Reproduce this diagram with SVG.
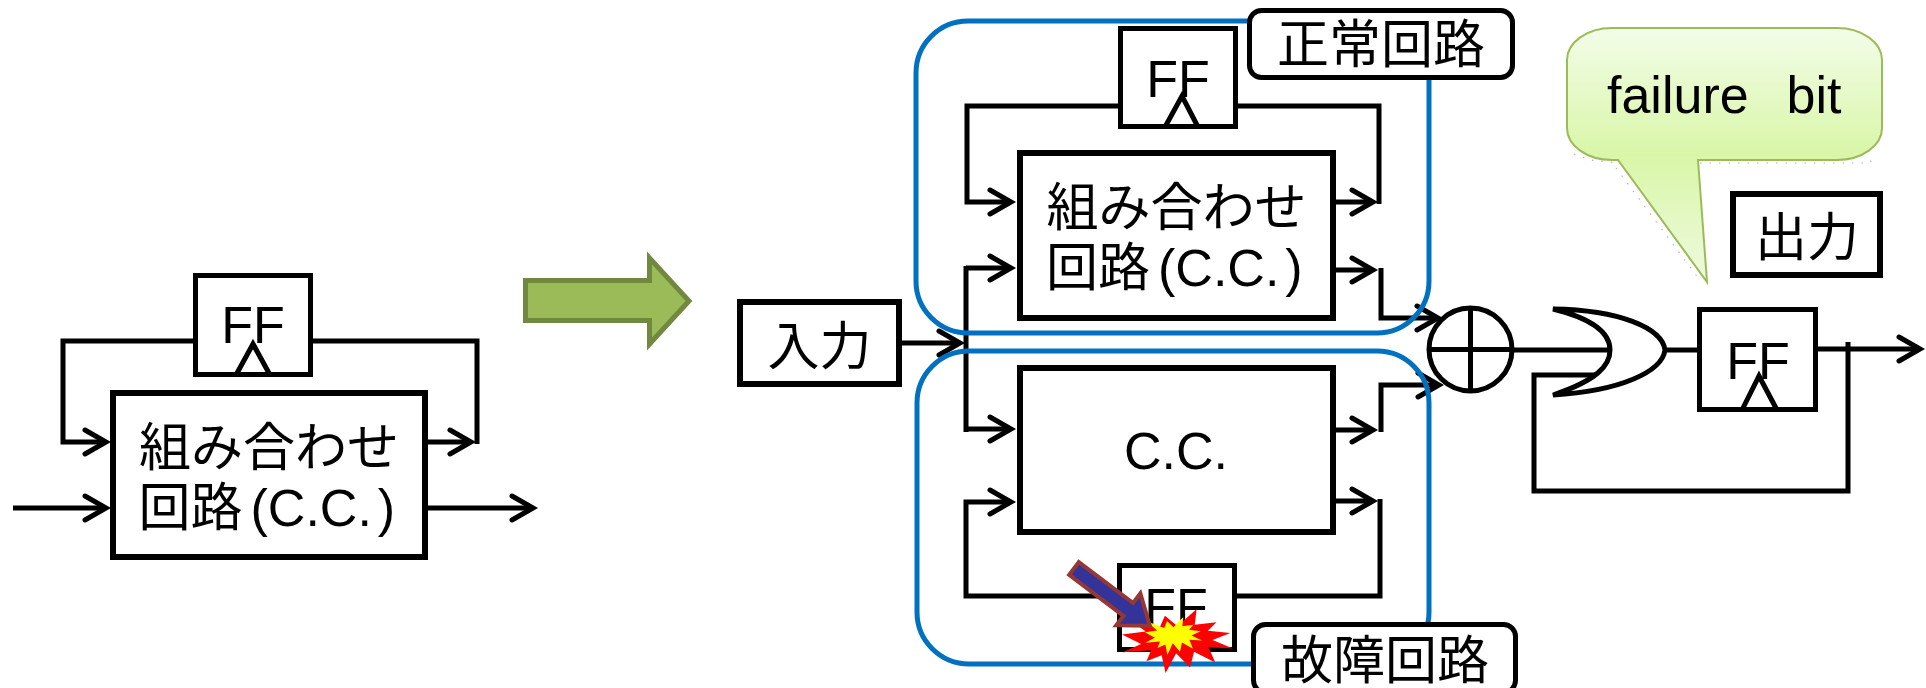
<svg xmlns="http://www.w3.org/2000/svg" width="1926" height="688" viewBox="0 0 1926 688">
  <style>
    .w { fill: none; stroke: #000; stroke-width: 5; stroke-linejoin: miter; }
    .box { fill: #fff; stroke: #000; stroke-width: 5; }
    .cc { fill: #fff; stroke: #000; stroke-width: 6; }
    .lbl { fill: #fff; stroke: #000; stroke-width: 5; }
    .blue { fill: none; stroke: #0070C0; stroke-width: 5; }
    .t { font-family: "Liberation Sans", "Noto Sans CJK JP", sans-serif; font-size: 52px; fill: #000; }
    .mid { text-anchor: middle; }
  </style>
  <defs>
    <marker id="ah" markerUnits="userSpaceOnUse" markerWidth="40" markerHeight="40" viewBox="-30 -20 40 40" refX="0" refY="0" orient="auto">
      <path d="M-21,-12 L0,0 L-21,12" fill="none" stroke="#000" stroke-width="5" stroke-linecap="round"/>
    </marker>
    <linearGradient id="callout" gradientUnits="userSpaceOnUse" x1="0" y1="28" x2="0" y2="282">
      <stop offset="0" stop-color="#F3FDE9"/>
      <stop offset="0.5" stop-color="#D9F6A8"/>
      <stop offset="1" stop-color="#EEFADF"/>
    </linearGradient>
    <path id="seal" d="M10800,5800 L14522,0 L14155,5325 L18380,4457 L16702,7315 L21097,8137 L17607,10475 L21600,13290 L16837,12942 L18145,18095 L14020,14457 L13247,19737 L10532,14935 L8485,21600 L7715,15627 L4762,17617 L5667,13937 L135,14587 L3722,11775 L0,8615 L4627,7617 L370,2295 L7312,6320 L8352,2295 Z"/>
  </defs>

  <!-- wires and arrows -->
  <g id="connectors">
    <!-- single circuit -->
    <path class="w" d="M193,341 H63 V442 H106" marker-end="url(#ah)"/>
    <path class="w" d="M313,341 H477 V444"/>
    <path class="w" d="M428,442 H471" marker-end="url(#ah)"/>
    <path class="w" d="M13,508 H106" marker-end="url(#ah)"/>
    <path class="w" d="M428,508 H533" marker-end="url(#ah)"/>

    <!-- input bus -->
    <path class="w" d="M902,343 H960" marker-end="url(#ah)"/>
    <path class="w" d="M966,266 V432"/>
    <path class="w" d="M966,268 H1011" marker-end="url(#ah)"/>
    <path class="w" d="M966,429 H1011" marker-end="url(#ah)"/>

    <!-- normal circuit loop -->
    <path class="w" d="M1118,106 H967 V202 H1011" marker-end="url(#ah)"/>
    <path class="w" d="M1238,106 H1379 V204"/>
    <path class="w" d="M1336,202 H1373" marker-end="url(#ah)"/>
    <path class="w" d="M1336,270 H1373" marker-end="url(#ah)"/>
    <path class="w" d="M1381,268 V318 H1438" marker-end="url(#ah)"/>

    <!-- faulty circuit loop -->
    <path class="w" d="M1117,596 H966 V502 H1011" marker-end="url(#ah)"/>
    <path class="w" d="M1237,596 H1380 V499"/>
    <path class="w" d="M1336,501 H1373" marker-end="url(#ah)"/>
    <path class="w" d="M1336,430 H1373" marker-end="url(#ah)"/>
    <path class="w" d="M1381,432 V385 H1439" marker-end="url(#ah)"/>

    <!-- comparison and output latch -->
    <path class="w" d="M1512,350 H1608"/>
    <path class="w" d="M1665,350 H1697"/>
    <path class="w" d="M1818,349 H1920" marker-end="url(#ah)"/>
    <path class="w" d="M1848,342 V491 H1534 V375 H1598"/>
  </g>

  <!-- circuit outlines -->
  <rect id="normal-area" class="blue" x="916" y="21" width="513" height="312" rx="52"/>
  <rect id="fault-area" class="blue" x="917" y="351" width="512" height="313" rx="52"/>

  <!-- left: original circuit -->
  <g id="ff-left">
    <rect class="box" x="195.5" y="275.5" width="115" height="99"/>
    <polyline class="w" points="236,375 253,344 270,375"/>
    <text class="t mid" x="253" y="343">FF</text>
  </g>
  <g id="cc-left">
    <rect class="cc" x="113" y="393" width="312" height="164"/>
    <text class="t mid" x="269" y="466">組み合わせ</text>
    <text class="t" x="138.5" y="526">回路<tspan dx="8">(</tspan>C.C.<tspan dx="6">)</tspan></text>
  </g>

  <g id="transform-arrow">
    <polygon points="525.5,280.5 649.5,280.5 649.5,258 689,301 649.5,344 649.5,320.5 525.5,320.5" fill="#9BBB59" stroke="#71893F" stroke-width="5"/>
  </g>

  <g id="input">
    <rect class="cc" x="740" y="302" width="159" height="82"/>
    <text class="t mid" x="819.5" y="365">入力</text>
  </g>

  <!-- normal circuit -->
  <g id="ff-normal">
    <rect class="box" x="1120.5" y="28.5" width="115" height="98"/>
    <polyline class="w" points="1165,127 1182,96 1198,127"/>
    <text class="t mid" x="1178" y="97">FF</text>
  </g>
  <g id="cc-normal">
    <rect class="cc" x="1020" y="153" width="313" height="165"/>
    <text class="t mid" x="1176.5" y="226">組み合わせ</text>
    <text class="t" x="1046" y="286">回路<tspan dx="8">(</tspan>C.C.<tspan dx="6">)</tspan></text>
  </g>

  <!-- faulty circuit -->
  <g id="cc-fault">
    <rect class="cc" x="1020" y="368" width="313" height="164"/>
    <text class="t mid" x="1176" y="469">C.C.</text>
  </g>
  <g id="ff-fault">
    <rect class="box" x="1119.5" y="565.5" width="115" height="84"/>
    <text class="t mid" x="1176" y="625">FF</text>
  </g>
  <g id="fault-burst">
    <use href="#seal" fill="#FF0000" transform="translate(1122,609) scale(0.005139,0.002963)"/>
    <use href="#seal" fill="#FFFF00" transform="translate(1145,617) scale(0.002639,0.001759)"/>
  </g>
  <g id="fault-pointer">
    <polygon points="0,-8 68,-8 68,-20 95,0 68,20 68,8 0,8" fill="#333399" stroke="#953735" stroke-width="4" transform="translate(1074,568.5) rotate(37)"/>
  </g>

  <!-- circuit labels -->
  <g id="label-normal">
    <rect class="lbl" x="1249.5" y="10.5" width="263" height="67" rx="12"/>
    <text class="t mid" x="1381" y="63">正常回路</text>
  </g>
  <g id="label-fault">
    <rect class="lbl" x="1253.5" y="624.5" width="262" height="68" rx="12"/>
    <text class="t mid" x="1385" y="679">故障回路</text>
  </g>

  <!-- XOR comparator -->
  <g id="xor">
    <circle cx="1470.5" cy="349.5" r="41.5" fill="#fff" stroke="#000" stroke-width="5"/>
    <path class="w" d="M1470.5,308 V391 M1429,349.5 H1512"/>
  </g>

  <!-- OR gate -->
  <g id="or">
    <path d="M1553,309 C1620,310 1662,328 1665,350 C1662,372 1620,391 1553,395 C1598,380 1610,365 1610,350 C1610,335 1598,320 1553,309 Z" fill="#fff" stroke="#000" stroke-width="5" stroke-linejoin="miter"/>
  </g>

  <g id="ff-out">
    <rect class="box" x="1699.5" y="309.5" width="116" height="100"/>
    <polyline class="w" points="1742,410 1759,376 1777,410"/>
    <text class="t mid" x="1758" y="379">FF</text>
  </g>

  <g id="output">
    <rect class="cc" x="1733" y="194" width="147" height="81"/>
    <text class="t mid" x="1807" y="256">出力</text>
  </g>

  <!-- failure bit callout -->
  <g id="callout-failure-bit">
    <path d="M1574,154 L1590,160 L1618,163 M1700,163 H1870 L1874,154 M1616,168 L1699,279" fill="none" stroke="#999" stroke-opacity="0.7" stroke-width="1.2" stroke-dasharray="1.5 8"/>
    <path d="M1612,28 H1837 A45,32 0 0 1 1882,60 V128 A45,32 0 0 1 1837,160 H1698 L1707,282 L1618,160 H1612 A45,32 0 0 1 1567,128 V60 A45,32 0 0 1 1612,28 Z" fill="url(#callout)" stroke="#9BBB59" stroke-width="2"/>
    <text class="t" x="1607" y="113" xml:space="preserve">failure  <tspan dx="9">bit</tspan></text>
  </g>
</svg>
